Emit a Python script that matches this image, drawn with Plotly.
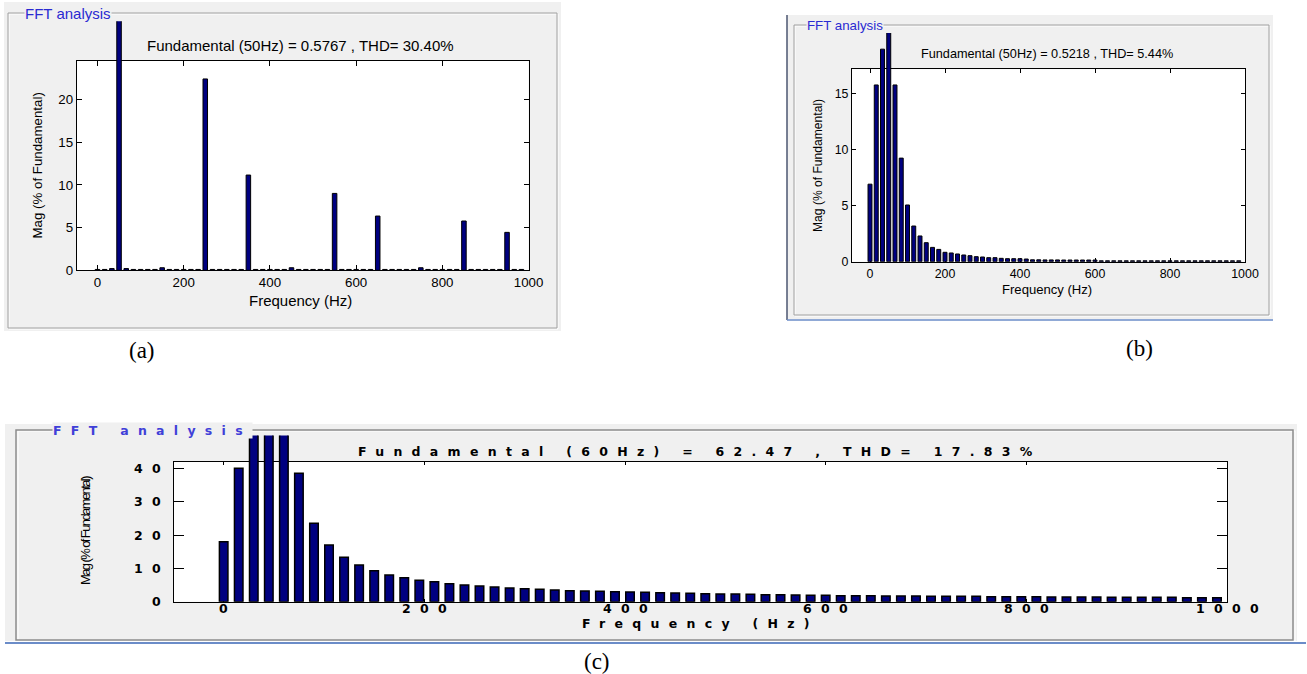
import plotly.graph_objects as go

W, H = 1307, 674

# ---------------- data ----------------
x_tick_vals = [0, 200, 400, 600, 800, 1000]
x_tick_text = ["0", "200", "400", "600", "800", "1000"]
y_ticks_a = [0, 5, 10, 15, 20]
y_ticks_b = [0, 5, 10, 15]
y_ticks_c = [0, 10, 20, 30, 40]

freq_ab = [0, 16.67, 33.33, 50, 66.67, 83.33, 100, 116.67, 133.33, 150,
           166.67, 183.33, 200, 216.67, 233.33, 250, 266.67, 283.33, 300, 316.67,
           333.33, 350, 366.67, 383.33, 400, 416.67, 433.33, 450, 466.67, 483.33,
           500, 516.67, 533.33, 550, 566.67, 583.33, 600, 616.67, 633.33, 650,
           666.67, 683.33, 700, 716.67, 733.33, 750, 766.67, 783.33, 800, 816.67,
           833.33, 850, 866.67, 883.33, 900, 916.67, 933.33, 950, 966.67, 983.33]

mag_a = [0.1, 0.1, 0.2, 100, 0.2, 0.1, 0.1, 0.1, 0.1, 0.3,
         0.1, 0.1, 0.1, 0.1, 0.1, 22.4, 0.1, 0.1, 0.1, 0.1,
         0.1, 11.15, 0.1, 0.1, 0.1, 0.1, 0.1, 0.3, 0.1, 0.1,
         0.1, 0.1, 0.1, 9.0, 0.1, 0.1, 0.1, 0.1, 0.1, 6.35,
         0.1, 0.1, 0.1, 0.1, 0.1, 0.3, 0.1, 0.1, 0.1, 0.1,
         0.1, 5.77, 0.1, 0.1, 0.1, 0.1, 0.1, 4.44, 0.1, 0.1]

mag_b = [6.93, 15.8, 19.0, 100, 15.8, 9.26, 5.07, 3.19, 2.30, 1.70,
         1.28, 1.10, 0.84, 0.78, 0.69, 0.60, 0.54, 0.45, 0.42, 0.36,
         0.36, 0.30, 0.27, 0.27, 0.27, 0.24, 0.17, 0.17, 0.16, 0.16,
         0.16, 0.15, 0.15, 0.15, 0.15, 0.15, 0.15, 0.08, 0.08, 0.08,
         0.08, 0.08, 0.08, 0.08, 0.08, 0.08, 0.08, 0.08, 0.08, 0.08,
         0.08, 0.08, 0.08, 0.08, 0.08, 0.08, 0.08, 0.08, 0.08, 0.08]

freq_c = [0, 15, 30, 45, 60, 75, 90, 105, 120, 135,
          150, 165, 180, 195, 210, 225, 240, 255, 270, 285,
          300, 315, 330, 345, 360, 375, 390, 405, 420, 435,
          450, 465, 480, 495, 510, 525, 540, 555, 570, 585,
          600, 615, 630, 645, 660, 675, 690, 705, 720, 735,
          750, 765, 780, 795, 810, 825, 840, 855, 870, 885,
          900, 915, 930, 945, 960, 975, 990]

mag_c = [18.0, 40.0, 60, 80, 100, 38.5, 23.5, 17.0, 13.3, 11.0,
         9.3, 8.0, 7.2, 6.4, 6.0, 5.4, 5.0, 4.7, 4.4, 4.1,
         3.9, 3.7, 3.5, 3.3, 3.2, 3.1, 3.0, 2.9, 2.8, 2.7,
         2.6, 2.5, 2.4, 2.3, 2.3, 2.2, 2.1, 2.1, 2.0, 1.9,
         1.9, 1.8, 1.8, 1.8, 1.7, 1.7, 1.7, 1.6, 1.6, 1.6,
         1.6, 1.5, 1.5, 1.5, 1.5, 1.4, 1.4, 1.4, 1.4, 1.3,
         1.3, 1.3, 1.3, 1.3, 1.2, 1.2, 1.2]

title_a = "Fundamental (50Hz) = 0.5767 , THD= 30.40%"
title_b = "Fundamental (50Hz) = 0.5218 , THD= 5.44%"
title_c = "Fundamental (60Hz) = 62.47 , THD= 17.83%"
panel_name = "FFT analysis"
x_label = "Frequency (Hz)"
y_label = "Mag (% of Fundamental)"
captions = ["(a)", "(b)", "(c)"]

# ---------------- helpers ----------------
def PX(p):
    return p / W


def PY(p):
    return 1 - p / H


SANS = "Liberation Sans, Arial, sans-serif"
WIDE = "DejaVu Sans, sans-serif"
SERIF = "Liberation Serif, Times New Roman, serif"
BAR_FILL = "#000080"
PANEL_BG = "#f0f0f0"
BLUE_TXT = "#2a2ad2"
C_SP = 9.3
C_FS = 12.5


def spaced(t, sp):
    return '<span style="letter-spacing:%spx">%s</span>' % (sp, t)


fig = go.Figure()
layout = dict(width=W, height=H,
              margin=dict(l=0, r=0, t=0, b=0, pad=0, autoexpand=False),
              paper_bgcolor="white", plot_bgcolor="rgba(0,0,0,0)",
              showlegend=False, shapes=[], annotations=[])


def add_rect(x0, y0, x1, y1, fill=None, line=None, lw=1):
    layout["shapes"].append(dict(
        type="rect", xref="paper", yref="paper", layer="below",
        x0=PX(x0), x1=PX(x1), y0=PY(y1), y1=PY(y0),
        fillcolor=fill if fill else "rgba(0,0,0,0)",
        line=dict(color=line if line else "rgba(0,0,0,0)", width=lw if line else 0)))


def add_line(x0, y0, x1, y1, color, lw=1):
    layout["shapes"].append(dict(
        type="line", xref="paper", yref="paper", layer="below",
        x0=PX(x0), x1=PX(x1), y0=PY(y0), y1=PY(y1),
        line=dict(color=color, width=lw)))


def add_text(text, x, y, size, family=SANS, color="black", xanchor="center",
             angle=0, bg=None, weight="normal", xref="paper", yref="paper", xshift=0):
    a = dict(text=text, xref=xref, yref=yref,
             x=PX(x) if xref == "paper" else x,
             y=PY(y) if yref == "paper" else y,
             xanchor=xanchor, yanchor="middle", showarrow=False,
             textangle=angle, xshift=xshift,
             font=dict(family=family, size=size, color=color, weight=weight))
    if bg:
        a["bgcolor"] = bg
        a["borderpad"] = 0
    layout["annotations"].append(a)


def add_panel(n, box, clip_top, xlim, ylim, yticks, freq, mag, bar_w,
              tickfont, xticklen, yticklen, bar_lw, show_labels=True):
    left, top, right, bottom = box
    fx = "x" if n == 1 else "x%d" % n
    fy = "y" if n == 1 else "y%d" % n
    bx, by = "x%d" % (n + 1), "y%d" % (n + 1)
    kx = "xaxis" if n == 1 else "xaxis%d" % n
    ky = "yaxis" if n == 1 else "yaxis%d" % n
    common = dict(showgrid=False, zeroline=False, fixedrange=True, automargin=False)
    layout[kx] = dict(domain=[PX(left), PX(right)], range=xlim, anchor=fy,
                      tickmode="array", tickvals=x_tick_vals, ticktext=x_tick_text,
                      ticks="inside", ticklen=xticklen, tickwidth=1, tickcolor="black",
                      showline=True, linecolor="black", linewidth=1, mirror="ticks",
                      showticklabels=show_labels, tickfont=tickfont, tickangle=0, **common)
    layout[ky] = dict(domain=[PY(bottom), PY(top)], range=ylim, anchor=fx,
                      tickmode="array", tickvals=yticks, ticktext=[str(v) for v in yticks],
                      ticks="inside", ticklen=yticklen, tickwidth=1, tickcolor="black",
                      showline=True, linecolor="black", linewidth=1, mirror="ticks",
                      showticklabels=show_labels, tickfont=tickfont, **common)
    # taller invisible axes for the bars so bars above the frame stay visible up to the panel edge
    r_top = ylim[1] * (bottom - clip_top) / (bottom - top)
    layout["xaxis%d" % (n + 1)] = dict(domain=[PX(left), PX(right)], range=xlim,
                                        anchor=by, visible=False, **common)
    layout["yaxis%d" % (n + 1)] = dict(domain=[PY(bottom), PY(clip_top)], range=[0, r_top],
                                        anchor=bx, visible=False, **common)
    layout["shapes"].append(dict(type="rect", xref=fx + " domain", yref=fy + " domain",
                                 x0=0, x1=1, y0=0, y1=1, fillcolor="white",
                                 line=dict(width=0), layer="below"))
    # empty trace so the frame subplot gets drawn
    fig.add_trace(go.Scatter(x=[None], y=[None], xaxis=fx, yaxis=fy, mode="markers",
                             hoverinfo="skip", showlegend=False))
    fig.add_trace(go.Bar(x=freq, y=mag, xaxis=bx, yaxis=by, width=bar_w,
                         marker=dict(color=BAR_FILL, line=dict(color="black", width=bar_lw)),
                         hoverinfo="skip", showlegend=False))


# ---------------- panel backgrounds ----------------
# (a)
add_rect(4, 2, 561, 331, fill=PANEL_BG)
add_rect(9, 14, 558, 329, line="white")
add_rect(8, 13, 557, 328, line="#a0a0a0")
# (b)
add_rect(787, 15, 1273, 319, fill=PANEL_BG)
add_rect(795, 26, 1270, 316, line="white")
add_rect(794, 25, 1269, 315, line="#a0a0a0")
add_line(787, 15, 787, 320, "#4b5670", 1.5)
add_line(787, 320, 1273, 320, "#6b8cc8", 1.5)
# (c)
add_rect(5, 424, 1297, 641, fill=PANEL_BG)
add_rect(18, 431, 1295, 641, line="white")
add_rect(16, 430, 1293, 640, line="#8c8c8c", lw=1.5)
add_line(5, 643, 1306, 643, "#6b8cc8", 2)

# ---------------- axes + bars ----------------
f_a = dict(family=SANS, size=13.3, color="black")
add_panel(1, (76.8, 61.0, 528.6, 270.3), 21.3, [-48, 1000], [0, 24.5], y_ticks_a,
          freq_ab, mag_a, 10.5, f_a, 5, 5, 1)

f_b = dict(family=SANS, size=12.4, color="black")
add_panel(3, (852.0, 69.3, 1245.0, 261.7), 33.0, [-48, 1000], [0, 17.2], y_ticks_b,
          freq_ab, mag_b, 10.5, f_b, 4, 4, 1)

f_c = dict(family=WIDE, size=C_FS, color="black", weight="bold")
add_panel(5, (173.5, 461.7, 1227.0, 601.7), 435.5, [-50, 1000], [0, 42], y_ticks_c,
          freq_c, mag_c, 8.5, f_c, 3, 10, 1.5, show_labels=False)
# stretched-looking tick labels of (c), placed through the (c) axes scales
for v, t in zip(x_tick_vals, x_tick_text):
    add_text(spaced(t, C_SP), v, 608, C_FS, family=WIDE, weight="bold",
             xref="x5", xshift=C_SP / 2)
for v in y_ticks_c:
    add_text(spaced(str(v), C_SP), 163, v, C_FS, family=WIDE, weight="bold",
             xanchor="right", yref="y5", xshift=C_SP)

# ---------------- texts ----------------
add_text(panel_name, 24, 13, 15, color=BLUE_TXT, xanchor="left", bg=PANEL_BG)
add_text(title_a, 300, 45, 15)
add_text(x_label, 300.5, 300, 15)
add_text(y_label, 37.5, 166, 13.3, angle=-90)
add_text(panel_name, 806, 25, 13.3, color=BLUE_TXT, xanchor="left", bg=PANEL_BG)
add_text(title_b, 1047, 54, 12.7)
add_text(x_label, 1047, 289, 13.1)
add_text(y_label, 818, 166, 12.1, angle=-90)
add_text(spaced(panel_name, C_SP), 52, 430, C_FS, family=WIDE, color="#4040d8",
         xanchor="left", bg=PANEL_BG, weight="bold")
add_text(spaced(title_c, C_SP), 700, 452, C_FS, family=WIDE, weight="bold")
add_text(spaced(x_label, C_SP), 700, 623, C_FS, family=WIDE, weight="bold")
add_text(spaced(y_label, -1.6), 85, 531, 13, angle=-90)
add_text(captions[0], 142, 350, 23, family=SERIF)
add_text(captions[1], 1139, 349, 23, family=SERIF)
add_text(captions[2], 597, 661, 23, family=SERIF)

fig.update_layout(**layout)
fig.write_html("out.html", config={"displayModeBar": False, "staticPlot": True},
               post_script="document.body.style.margin='0';")
